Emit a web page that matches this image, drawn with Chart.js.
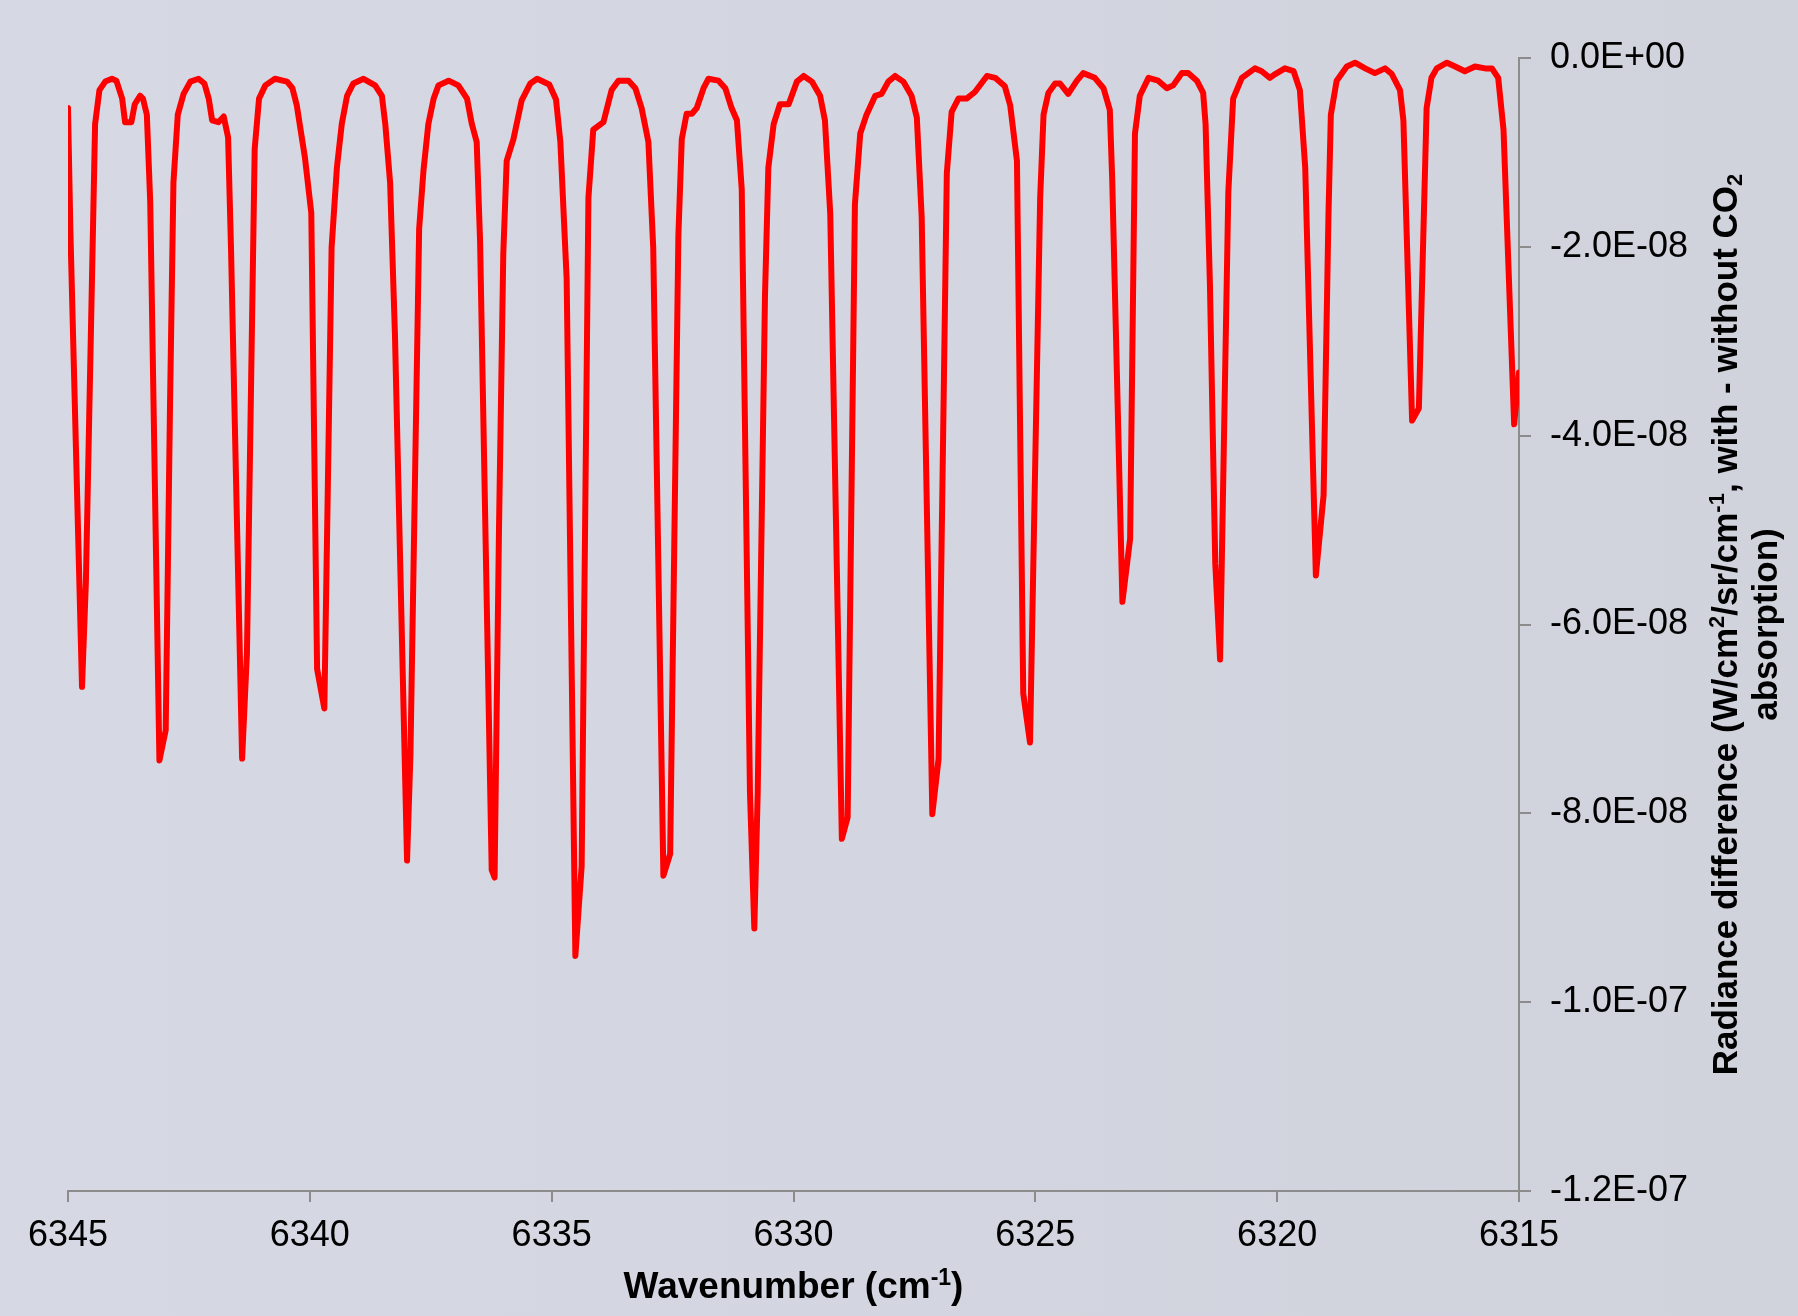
<!DOCTYPE html>
<html>
<head>
<meta charset="utf-8">
<script src="https://cdn.jsdelivr.net/npm/chart.js@4.4.1/dist/chart.umd.min.js"></script>
<style>
  html, body { margin: 0; padding: 0; background: #D3D6E0; }
  #wrap { position: relative; width: 1798px; height: 1316px; }
</style>
</head>
<body>
<div id="wrap"><canvas id="c"></canvas></div>
<script>
// Wavenumber (cm-1) of each vertex of the trace
const wavenumbers = [
  6345.00, 6344.95, 6344.71, 6344.63, 6344.44, 6344.35, 6344.23, 6344.09, 6344.00, 6343.88,
  6343.82, 6343.69, 6343.62, 6343.51, 6343.45, 6343.37, 6343.30, 6343.11, 6342.98, 6342.89,
  6342.82, 6342.73, 6342.61, 6342.47, 6342.30, 6342.18, 6342.09, 6342.02, 6341.89, 6341.78,
  6341.69, 6341.63, 6341.40, 6341.30, 6341.14, 6341.05, 6340.92, 6340.72, 6340.47, 6340.36,
  6340.27, 6340.10, 6339.97, 6339.85, 6339.70, 6339.55, 6339.44, 6339.34, 6339.23, 6339.10,
  6338.89, 6338.65, 6338.51, 6338.44, 6338.34, 6338.24, 6337.99, 6337.92, 6337.74, 6337.65,
  6337.55, 6337.44, 6337.34, 6337.13, 6336.93, 6336.75, 6336.65, 6336.55, 6336.48, 6336.24,
  6336.18, 6336.09, 6336.00, 6335.93, 6335.79, 6335.62, 6335.44, 6335.30, 6335.05, 6334.91,
  6334.82, 6334.69, 6334.51, 6334.38, 6334.24, 6334.14, 6333.93, 6333.76, 6333.62, 6333.41,
  6333.27, 6333.14, 6333.00, 6332.90, 6332.69, 6332.55, 6332.38, 6332.31, 6332.21, 6332.10,
  6332.00, 6331.86, 6331.76, 6331.55, 6331.41, 6331.28, 6331.17, 6331.07, 6330.90, 6330.81,
  6330.74, 6330.59, 6330.52, 6330.41, 6330.28, 6330.10, 6329.93, 6329.79, 6329.62, 6329.45,
  6329.35, 6329.24, 6329.00, 6328.88, 6328.73, 6328.62, 6328.49, 6328.31, 6328.18, 6328.04,
  6327.90, 6327.73, 6327.56, 6327.45, 6327.35, 6327.13, 6327.00, 6326.83, 6326.73, 6326.59,
  6326.42, 6326.25, 6326.00, 6325.83, 6325.63, 6325.52, 6325.38, 6325.25, 6325.11, 6324.90,
  6324.83, 6324.73, 6324.59, 6324.49, 6324.32, 6324.14, 6324.01, 6323.77, 6323.59, 6323.46,
  6323.41, 6323.20, 6323.04, 6322.94, 6322.84, 6322.66, 6322.46, 6322.28, 6322.15, 6321.97,
  6321.84, 6321.66, 6321.53, 6321.48, 6321.39, 6321.28, 6321.18, 6321.01, 6320.91, 6320.73,
  6320.46, 6320.32, 6320.15, 6320.04, 6319.84, 6319.66, 6319.53, 6319.42, 6319.20, 6319.04,
  6318.94, 6318.89, 6318.77, 6318.56, 6318.39, 6318.18, 6317.98, 6317.77, 6317.63, 6317.46,
  6317.39, 6317.21, 6317.07, 6316.91, 6316.81, 6316.70, 6316.49, 6316.32, 6316.12, 6315.91,
  6315.70, 6315.56, 6315.43, 6315.32, 6315.10, 6315.00
];

// Radiance difference (W/cm2/sr/cm-1) at each vertex
const radianceDiff = [
  -0.53e-8, -1.84e-8, -6.66e-8, -5.55e-8, -0.70e-8, -0.34e-8, -0.25e-8, -0.22e-8, -0.24e-8, -0.43e-8,
  -0.68e-8, -0.68e-8, -0.49e-8, -0.40e-8, -0.43e-8, -0.60e-8, -1.52e-8, -7.44e-8, -7.12e-8, -3.65e-8,
  -1.32e-8, -0.60e-8, -0.38e-8, -0.25e-8, -0.22e-8, -0.27e-8, -0.43e-8, -0.66e-8, -0.68e-8, -0.62e-8,
  -0.84e-8, -2.01e-8, -7.42e-8, -6.30e-8, -0.96e-8, -0.43e-8, -0.29e-8, -0.22e-8, -0.25e-8, -0.32e-8,
  -0.50e-8, -1.06e-8, -1.64e-8, -6.47e-8, -6.89e-8, -2.01e-8, -1.16e-8, -0.70e-8, -0.40e-8, -0.27e-8,
  -0.22e-8, -0.29e-8, -0.40e-8, -0.70e-8, -1.32e-8, -2.93e-8, -8.50e-8, -7.38e-8, -1.81e-8, -1.19e-8,
  -0.70e-8, -0.43e-8, -0.29e-8, -0.24e-8, -0.29e-8, -0.43e-8, -0.70e-8, -0.89e-8, -1.94e-8, -8.60e-8,
  -8.68e-8, -5.02e-8, -2.07e-8, -1.09e-8, -0.86e-8, -0.45e-8, -0.27e-8, -0.22e-8, -0.28e-8, -0.44e-8,
  -0.89e-8, -2.34e-8, -9.51e-8, -8.56e-8, -1.48e-8, -0.76e-8, -0.68e-8, -0.34e-8, -0.24e-8, -0.24e-8,
  -0.32e-8, -0.53e-8, -0.89e-8, -2.01e-8, -8.66e-8, -8.43e-8, -1.88e-8, -0.86e-8, -0.59e-8, -0.59e-8,
  -0.53e-8, -0.32e-8, -0.22e-8, -0.24e-8, -0.32e-8, -0.53e-8, -0.66e-8, -1.39e-8, -7.78e-8, -9.22e-8,
  -7.78e-8, -2.53e-8, -1.16e-8, -0.70e-8, -0.49e-8, -0.49e-8, -0.25e-8, -0.19e-8, -0.25e-8, -0.40e-8,
  -0.66e-8, -1.65e-8, -8.27e-8, -8.04e-8, -1.55e-8, -0.80e-8, -0.60e-8, -0.40e-8, -0.38e-8, -0.25e-8,
  -0.19e-8, -0.25e-8, -0.40e-8, -0.63e-8, -1.68e-8, -8.01e-8, -7.42e-8, -1.22e-8, -0.57e-8, -0.43e-8,
  -0.43e-8, -0.36e-8, -0.19e-8, -0.21e-8, -0.30e-8, -0.50e-8, -1.09e-8, -6.73e-8, -7.25e-8, -1.48e-8,
  -0.60e-8, -0.37e-8, -0.27e-8, -0.27e-8, -0.38e-8, -0.24e-8, -0.16e-8, -0.21e-8, -0.32e-8, -0.55e-8,
  -1.29e-8, -5.76e-8, -5.09e-8, -0.80e-8, -0.40e-8, -0.21e-8, -0.24e-8, -0.32e-8, -0.29e-8, -0.16e-8,
  -0.16e-8, -0.24e-8, -0.37e-8, -0.70e-8, -2.40e-8, -5.35e-8, -6.37e-8, -1.42e-8, -0.43e-8, -0.21e-8,
  -0.11e-8, -0.14e-8, -0.21e-8, -0.17e-8, -0.11e-8, -0.14e-8, -0.34e-8, -1.16e-8, -5.48e-8, -4.63e-8,
  -1.68e-8, -0.60e-8, -0.24e-8, -0.09e-8, -0.05e-8, -0.11e-8, -0.16e-8, -0.11e-8, -0.17e-8, -0.34e-8,
  -0.66e-8, -3.84e-8, -3.71e-8, -0.53e-8, -0.21e-8, -0.11e-8, -0.05e-8, -0.09e-8, -0.14e-8, -0.09e-8,
  -0.11e-8, -0.11e-8, -0.21e-8, -0.76e-8, -3.88e-8, -3.33e-8
];

// Axis tick values
const xTicks = [6345, 6340, 6335, 6330, 6325, 6320, 6315];
const yTicks = [0, -2e-8, -4e-8, -6e-8, -8e-8, -1e-7, -1.2e-7];

const xTitleParts = [{t: 'Wavenumber (cm'}, {t: '-1', sup: true}, {t: ')'}];
const yTitleLine1 = [{t: 'Radiance difference (W/cm'}, {t: '2', sup: true}, {t: '/sr/cm'}, {t: '-1', sup: true}, {t: ', with - without CO'}, {t: '2', sub: true}];
const yTitleLine2 = [{t: 'absorption)'}];

const points = wavenumbers.map((w, i) => ({x: w, y: radianceDiff[i]}));

function sciLabel(v) {
  if (Math.abs(v) < 1e-20) return '0.0E+00';
  const s = Number(v).toExponential(1);
  const parts = s.split('e');
  const e = parseInt(parts[1], 10);
  const sign = e < 0 ? '-' : '+';
  return parts[0] + 'E' + sign + String(Math.abs(e)).padStart(2, '0');
}

const FONT = '"Liberation Sans", Arial, "DejaVu Sans", sans-serif';

function drawRich(ctx, segs, cx, cy, size, rot) {
  ctx.save();
  ctx.translate(cx, cy);
  ctx.rotate(rot);
  ctx.fillStyle = '#000000';
  ctx.textBaseline = 'alphabetic';
  ctx.textAlign = 'left';
  const small = Math.round(size * 0.62);
  let total = 0;
  const widths = segs.map(s => {
    ctx.font = 'bold ' + ((s.sup || s.sub) ? small : size) + 'px ' + FONT;
    const w = ctx.measureText(s.t).width;
    total += w;
    return w;
  });
  let x = -total / 2;
  const base = size * 0.358;
  segs.forEach((s, i) => {
    ctx.font = 'bold ' + ((s.sup || s.sub) ? small : size) + 'px ' + FONT;
    let dy = 0;
    if (s.sup) dy = -size * 0.36;
    if (s.sub) dy = size * 0.16;
    ctx.fillText(s.t, x, base + dy);
    x += widths[i];
  });
  ctx.restore();
}

const bgPlugin = {
  id: 'bg',
  beforeDraw(chart) {
    const {ctx, width, height} = chart;
    const g = ctx.createLinearGradient(0, 0, width, 0);
    g.addColorStop(0, '#D6D9E4');
    g.addColorStop(1, '#D0D3DC');
    ctx.save();
    ctx.fillStyle = g;
    ctx.fillRect(0, 0, width, height);
    ctx.restore();
  }
};

const titlePlugin = {
  id: 'titles',
  afterDraw(chart) {
    const {ctx, chartArea} = chart;
    const cx = (chartArea.left + chartArea.right) / 2;
    drawRich(ctx, xTitleParts, cx, 1285, 37, 0);
    const cy = (chartArea.top + chartArea.bottom) / 2;
    drawRich(ctx, yTitleLine1, 1724, cy, 35, -Math.PI / 2);
    drawRich(ctx, yTitleLine2, 1764, cy, 35, -Math.PI / 2);
  }
};

new Chart(document.getElementById('c'), {
  type: 'line',
  data: {
    datasets: [{
      data: points,
      borderColor: '#FF0000',
      borderWidth: 6,
      pointRadius: 0,
      tension: 0,
      fill: false,
      borderJoinStyle: 'round',
      borderCapStyle: 'round'
    }]
  },
  options: {
    responsive: true,
    maintainAspectRatio: false,
    devicePixelRatio: 1,
    animation: false,
    layout: {padding: {left: 68, top: 58, right: 0, bottom: 0}},
    plugins: {legend: {display: false}, tooltip: {enabled: false}, title: {display: false}},
    scales: {
      x: {
        type: 'linear',
        reverse: true,
        min: 6315,
        max: 6345,
        afterBuildTicks(scale) { scale.ticks = xTicks.map(v => ({value: v})); },
        afterFit(scale) { scale.height = 125; },
        ticks: {
          color: '#000000',
          font: {family: FONT, size: 36},
          padding: 12,
          maxRotation: 0,
          autoSkip: false,
          callback: v => String(v)
        },
        grid: {display: true, drawOnChartArea: false, drawTicks: true, tickLength: 11, color: '#8C8C8C', lineWidth: 2},
        border: {display: true, color: '#8C8C8C', width: 2},
        title: {display: false}
      },
      y: {
        type: 'linear',
        position: 'right',
        min: -1.2e-7,
        max: 0,
        afterBuildTicks(scale) { scale.ticks = yTicks.map(v => ({value: v})); },
        afterFit(scale) { scale.width = 279; },
        ticks: {
          color: '#000000',
          font: {family: FONT, size: 36},
          padding: 19,
          autoSkip: false,
          callback: v => sciLabel(v)
        },
        grid: {display: true, drawOnChartArea: false, drawTicks: true, tickLength: 12, color: '#8C8C8C', lineWidth: 2},
        border: {display: true, color: '#8C8C8C', width: 2},
        title: {display: false}
      }
    }
  },
  plugins: [bgPlugin, titlePlugin]
});
</script>
</body>
</html>
